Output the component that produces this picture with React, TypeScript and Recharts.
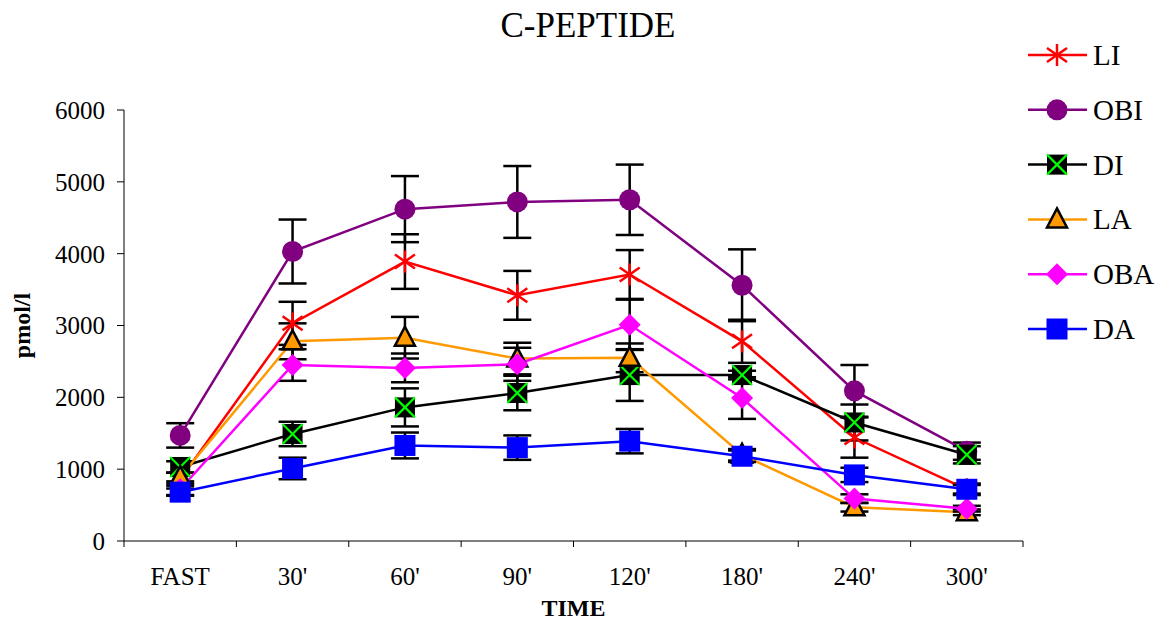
import React from 'react';
import { LineChart, Line, XAxis, YAxis, ErrorBar } from 'recharts';

const times = ['FAST', "30'", "60'", "90'", "120'", "180'", "240'", "300'"];

const liMean = [860, 3030, 3890, 3420, 3710, 2780, 1440, 720];
const liErr = [90, 300, 380, 340, 340, 300, 280, 80];
const obiMean = [1470, 4030, 4620, 4720, 4750, 3560, 2090, 1250];
const obiErr = [170, 445, 460, 500, 490, 500, 360, 120];
const diMean = [1030, 1490, 1860, 2060, 2310, 2310, 1650, 1200];
const diErr = [80, 170, 265, 240, 360, 60, 250, 120];
const laMean = [890, 2780, 2830, 2540, 2550, 1200, 470, 400];
const laErr = [60, 250, 290, 220, 200, 80, 60, 40];
const obaMean = [720, 2450, 2410, 2460, 3010, 1990, 590, 450];
const obaErr = [80, 220, 200, 230, 350, 290, 60, 40];
const daMean = [680, 1010, 1330, 1300, 1390, 1180, 920, 720];
const daErr = [50, 150, 180, 170, 170, 80, 100, 60];

const yTicks = [0, 1000, 2000, 3000, 4000, 5000, 6000];

const FONT = "'Liberation Serif', 'Times New Roman', serif";
const W = 1163;
const H = 626;
const MARGIN = { top: 110, right: 140, bottom: 0, left: 0 };
const Y_AXIS_W = 124;
const X_AXIS_H = 85;
const PLOT_W = W - MARGIN.left - MARGIN.right - Y_AXIS_W;
const HALF_BAND = PLOT_W / times.length / 2;

type Shape = 'star' | 'circle' | 'xsquare' | 'triangle' | 'diamond' | 'square';

const series: { key: string; color: string; shape: Shape; mean: number[]; err: number[] }[] = [
  { key: 'LI', color: '#FF0000', shape: 'star', mean: liMean, err: liErr },
  { key: 'OBI', color: '#800080', shape: 'circle', mean: obiMean, err: obiErr },
  { key: 'DI', color: '#000000', shape: 'xsquare', mean: diMean, err: diErr },
  { key: 'LA', color: '#FF9900', shape: 'triangle', mean: laMean, err: laErr },
  { key: 'OBA', color: '#FF00FF', shape: 'diamond', mean: obaMean, err: obaErr },
  { key: 'DA', color: '#0000FF', shape: 'square', mean: daMean, err: daErr },
];

const data = times.map((t, i) => {
  const row: Record<string, string | number> = { t };
  series.forEach((s) => {
    row[s.key] = s.mean[i];
    row[s.key + '_err'] = s.err[i];
  });
  return row;
});

function Marker({ shape, color, cx, cy }: { shape: Shape; color: string; cx: number; cy: number }) {
  switch (shape) {
    case 'star':
      return (
        <g stroke={color} strokeWidth={2.5}>
          <line x1={cx} y1={cy - 11} x2={cx} y2={cy + 11} />
          <line x1={cx - 10} y1={cy - 7} x2={cx + 10} y2={cy + 7} />
          <line x1={cx - 10} y1={cy + 7} x2={cx + 10} y2={cy - 7} />
        </g>
      );
    case 'circle':
      return <circle cx={cx} cy={cy} r={10.5} fill={color} />;
    case 'xsquare':
      return (
        <g>
          <rect x={cx - 10} y={cy - 10} width={20} height={20} fill="#000" />
          <g stroke="#00FF00" strokeWidth={2.2}>
            <line x1={cx - 10} y1={cy - 10} x2={cx + 10} y2={cy + 10} />
            <line x1={cx - 10} y1={cy + 10} x2={cx + 10} y2={cy - 10} />
          </g>
        </g>
      );
    case 'triangle':
      return (
        <polygon
          points={`${cx},${cy - 11} ${cx + 10},${cy + 8} ${cx - 10},${cy + 8}`}
          fill={color}
          stroke="#000"
          strokeWidth={2.5}
          strokeLinejoin="miter"
        />
      );
    case 'diamond':
      return <polygon points={`${cx},${cy - 11} ${cx + 11},${cy} ${cx},${cy + 11} ${cx - 11},${cy}`} fill={color} />;
    case 'square':
    default:
      return <rect x={cx - 10.5} y={cy - 10.5} width={21} height={21} fill={color} />;
  }
}

function XTick(props: any) {
  const { x, y, payload, index } = props;
  const last = index === times.length - 1;
  return (
    <g>
      <line x1={x - HALF_BAND} y1={y} x2={x - HALF_BAND} y2={y + 6} stroke="#000" />
      {last && <line x1={x + HALF_BAND} y1={y} x2={x + HALF_BAND} y2={y + 6} stroke="#000" />}
      <text x={x} y={y + 44} textAnchor="middle" fontFamily={FONT} fontSize={25} fill="#000">
        {payload.value}
      </text>
    </g>
  );
}

function YLabel(props: any) {
  const { viewBox } = props;
  const cx = viewBox.x + 22;
  const cy = viewBox.y + viewBox.height / 2;
  return (
    <text x={cx} y={cy} transform={`rotate(-90 ${cx} ${cy})`} textAnchor="middle" dominantBaseline="central"
      fontFamily={FONT} fontSize={24} fontWeight="bold" fill="#000">
      pmol/l
    </text>
  );
}

function XLabel(props: any) {
  const { viewBox } = props;
  return (
    <text x={viewBox.x + viewBox.width / 2} y={viewBox.y + 75} textAnchor="middle"
      fontFamily={FONT} fontSize={24} fontWeight="bold" fill="#000">
      TIME
    </text>
  );
}

export default function App() {
  return (
    <div style={{ position: 'absolute', left: 0, top: 0, width: W, height: H, background: '#fff' }}>
      <LineChart width={W} height={H} data={data} margin={MARGIN}>
        <XAxis
          dataKey="t"
          height={X_AXIS_H}
          padding={{ left: HALF_BAND, right: HALF_BAND }}
          stroke="#000"
          tickLine={false}
          tickSize={0}
          tickMargin={0}
          interval={0}
          tick={<XTick />}
          label={{ content: <XLabel /> }}
        />
        <YAxis
          width={Y_AXIS_W}
          domain={[0, 6000]}
          ticks={yTicks}
          stroke="#000"
          tickSize={7}
          tickMargin={12}
          tick={{ fill: '#000', fontSize: 25, fontFamily: FONT }}
          label={{ content: <YLabel /> }}
        />
        {series.map((s) => (
          <Line
            key={s.key}
            dataKey={s.key}
            stroke={s.color}
            strokeWidth={2.5}
            isAnimationActive={false}
            activeDot={false}
            dot={(p: any) => (
              <Marker key={`${s.key}-${p.index}`} shape={s.shape} color={s.color} cx={p.cx} cy={p.cy} />
            )}
          >
            <ErrorBar dataKey={s.key + '_err'} width={14} strokeWidth={2.5} stroke="#000" direction="y" />
          </Line>
        ))}
      </LineChart>
      <svg width={W} height={H} style={{ position: 'absolute', left: 0, top: 0, pointerEvents: 'none' }}>
        <text x={588} y={37} textAnchor="middle" fontFamily={FONT} fontSize={35} fill="#000">
          C-PEPTIDE
        </text>
        {series.map((s, i) => {
          const cy = 55 + i * 54.8;
          return (
            <g key={s.key}>
              <line x1={1028} y1={cy} x2={1087} y2={cy} stroke={s.color} strokeWidth={2.5} />
              <Marker shape={s.shape} color={s.color} cx={1057} cy={cy} />
              <text x={1093} y={cy + 10} fontFamily={FONT} fontSize={29} fill="#000">
                {s.key}
              </text>
            </g>
          );
        })}
      </svg>
    </div>
  );
}
